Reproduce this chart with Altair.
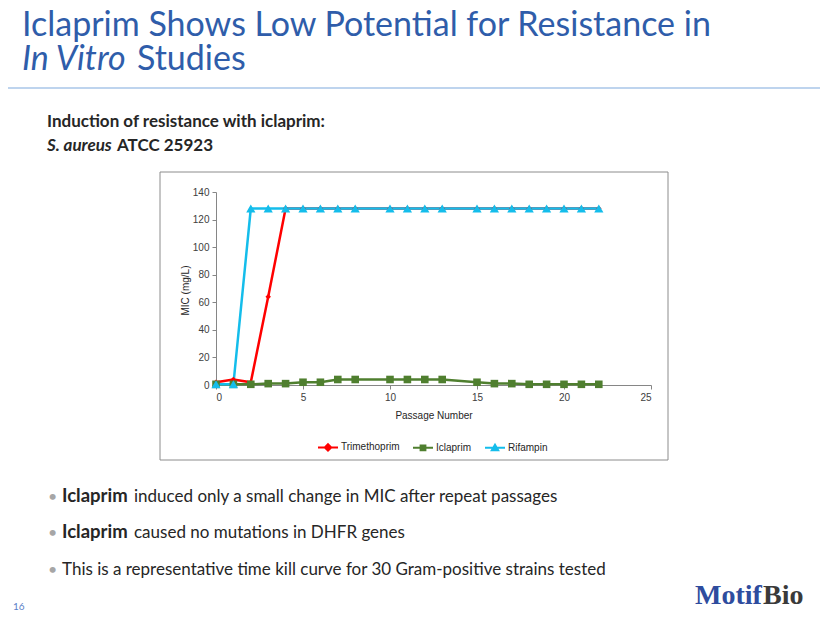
import altair as alt
import pandas as pd

# ---- data ----
passages = [0, 1, 2, 3, 4, 5, 6, 7, 8, 10, 11, 12, 13, 15, 16, 17, 18, 19, 20, 21, 22]
trimethoprim = [2, 4, 2, 64, 128, 128, 128, 128, 128, 128, 128, 128, 128, 128, 128, 128, 128, 128, 128, 128, 128]
iclaprim = [0.5, 0.5, 0.5, 1, 1, 2, 2, 4, 4, 4, 4, 4, 4, 2, 1, 1, 0.5, 0.5, 0.5, 0.5, 0.5]
rifampin = [0.5, 0.5, 128, 128, 128, 128, 128, 128, 128, 128, 128, 128, 128, 128, 128, 128, 128, 128, 128, 128, 128]
series_names = ["Trimethoprim", "Iclaprim", "Rifampin"]
series_colors = ["#FF0000", "#4F7F2F", "#14BDEB"]
series_shapes = ["diamond", "square", "triangle-up"]
# legend glyphs: a short line with the series marker in its middle
legend_glyphs = [
    "M-1,0H1M0,-0.32L0.32,0L0,0.32L-0.32,0Z",
    "M-1,0H1M-0.24,-0.24H0.24V0.24H-0.24Z",
    "M-1,0H1M0,-0.3L0.32,0.26H-0.32Z",
]
x_ticks = [0, 5, 10, 15, 20, 25]
y_ticks = [0, 20, 40, 60, 80, 100, 120, 140]

rows = []
for name, vals in zip(series_names, [trimethoprim, iclaprim, rifampin]):
    for p, v in zip(passages, vals):
        rows.append({"passage": p, "mic": v, "drug": name})
df = pd.DataFrame(rows)

W, H = 435, 193
PL, PT = 208, 184

def px(x):
    return x - 216

def py(y):
    return y - 192

x_enc = alt.X("passage:Q", scale=alt.Scale(domain=[0, 25], nice=False),
              axis=alt.Axis(values=x_ticks, title="Passage Number", titlePadding=8,
                            titleFontWeight="normal", format="d"))
y_enc = alt.Y("mic:Q", scale=alt.Scale(domain=[0, 140], nice=False),
              axis=alt.Axis(values=y_ticks, title="MIC (mg/L)", titleFontWeight="normal",
                            titleX=-26, titleY=98, format="d"))

color_scale = alt.Scale(domain=series_names, range=series_colors)

base = alt.Chart(df)
lines = base.mark_line(strokeWidth=2.5).encode(
    x=x_enc, y=y_enc, color=alt.Color("drug:N", scale=color_scale, legend=None),
    order=alt.Order("passage:Q"))
points = base.mark_point(filled=True, opacity=1, strokeWidth=0).encode(
    x=x_enc, y=y_enc,
    fill=alt.Fill("drug:N", scale=color_scale, legend=None),
    shape=alt.Shape("drug:N", scale=alt.Scale(domain=series_names, range=series_shapes), legend=None),
    size=alt.Size("drug:N", scale=alt.Scale(domain=series_names, range=[30, 85, 70]), legend=None))

legend = alt.Legend(title=None, orient="none", direction="horizontal",
                    legendX=px(317), legendY=py(436),
                    labelFont="Liberation Sans", labelFontSize=10, labelColor="#262626",
                    columnPadding=9, labelOffset=2,
                    symbolSize=400, symbolStrokeWidth=2)
# a legend-only layer: all rows filtered out, its scales have explicit domains
legend_layer = base.transform_filter("false").mark_point(filled=True, opacity=1).encode(
    x=x_enc, y=y_enc,
    stroke=alt.Stroke("drug:N", scale=color_scale, legend=legend),
    fill=alt.Fill("drug:N", scale=color_scale, legend=legend),
    shape=alt.Shape("drug:N", scale=alt.Scale(domain=series_names, range=legend_glyphs), legend=legend),
)

one = alt.Data(values=[{"k": 1}])

def txt(text, x, y, size, color="#262626", weight="normal", style="normal",
        font="Lato", align="left"):
    return alt.Chart(one).mark_text(align=align, baseline="alphabetic", fontSize=size,
                                    fontWeight=weight, fontStyle=style, font=font,
                                    color=color).encode(
        x=alt.value(px(x)), y=alt.value(py(y)), text=alt.value(text))

title_col = "#2F5DAA"
decor = [
    alt.Chart(one).mark_rect(fill="transparent", stroke="#8C8C8C", strokeWidth=1).encode(
        x=alt.value(px(160)), x2=alt.value(px(668)), y=alt.value(py(172)), y2=alt.value(py(460))),
    alt.Chart(one).mark_rule(color="#A9C6E8", strokeWidth=1.5).encode(
        x=alt.value(px(0)), x2=alt.value(px(830)), y=alt.value(py(88))),
    txt("Iclaprim Shows Low Potential for Resistance in", 22, 36, 34, title_col),
    txt("In Vitro", 22, 70, 34, title_col, style="italic"),
    txt("Studies", 137, 70, 34, title_col),
    txt("Induction of resistance with iclaprim:", 47, 127, 17, weight="bold"),
    txt("S. aureus", 47, 151, 17, weight="bold", style="italic"),
    txt("ATCC 25923", 117, 151, 17, weight="bold"),
    txt("•", 48, 502, 16, color="#A6A6A6"),
    txt("•", 48, 538, 16, color="#A6A6A6"),
    txt("•", 48, 575, 16, color="#A6A6A6"),
    txt("Iclaprim", 62, 502, 18.5, weight="bold"),
    txt("induced only a small change in MIC after repeat passages", 134, 502, 17),
    txt("Iclaprim", 62, 538, 18.5, weight="bold"),
    txt("caused no mutations in DHFR genes", 134, 538, 17),
    txt("This is a representative time kill curve for 30 Gram-positive strains tested", 62, 575, 17),
    txt("16", 13, 610, 10, color="#5B7FC7"),
    txt("Motif", 695, 604, 28, color="#2E4C9E", weight="bold", font="Liberation Serif"),
    txt("Bio", 763, 604, 28, color="#3A3A3A", weight="bold", font="Liberation Serif"),
]

chart = alt.layer(*decor, lines, points, legend_layer).properties(
    width=W, height=H,
    autosize=alt.AutoSizeParams(type="none"),
    padding={"left": PL, "top": PT, "right": 812 - PL - W, "bottom": 605 - PT - H},
    background="white",
).resolve_scale(shape="independent", fill="independent", stroke="independent"
).configure_view(stroke=None).configure_axis(
    grid=False, domainColor="#868686", tickColor="#868686", tickSize=4,
    labelFont="Liberation Sans", labelFontSize=10, labelColor="#404040",
    titleFont="Liberation Sans", titleFontSize=10, titleColor="#262626",
    labelPadding=3,
)

chart.save("out.html", embed_options={"renderer": "svg", "actions": False})
